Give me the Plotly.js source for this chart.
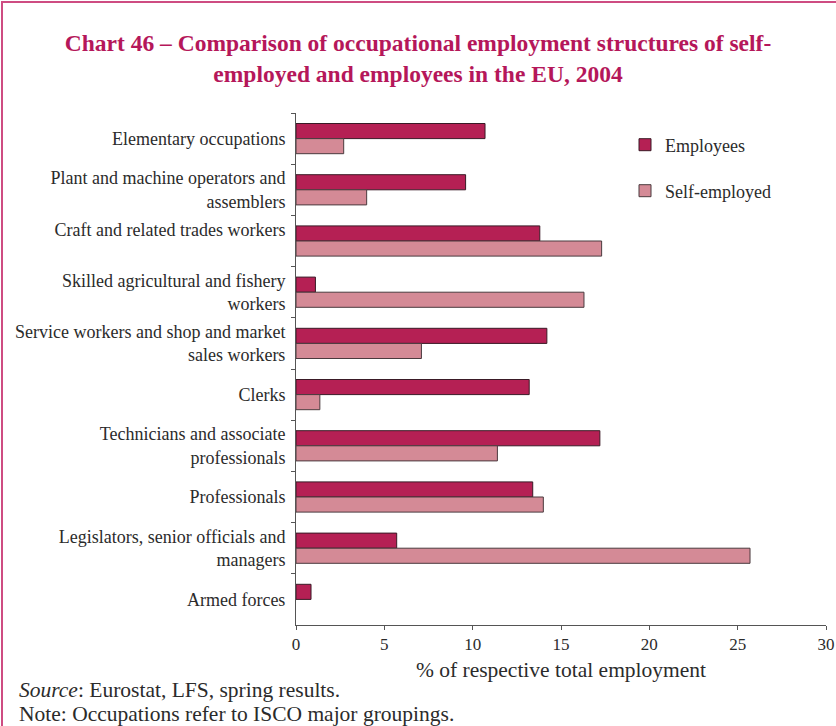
<!DOCTYPE html>
<html>
<head>
<meta charset="utf-8">
<script src="https://cdn.plot.ly/plotly-3.0.1.min.js"></script>
<style>
  html, body { margin: 0; padding: 0; background: #fff; }
  #wrap { position: relative; width: 836px; height: 726px; }
  #chart { position: absolute; left: 0; top: 0; width: 836px; height: 726px; }
  #frame { position: absolute; left: 1px; top: 1px; width: 835px; height: 725px;
           border-top: 2px solid #CE4C82; border-left: 2px solid #CE4C82;
           box-sizing: border-box; pointer-events: none; }
</style>
</head>
<body>
<div id="wrap">
  <div id="chart"></div>
  <div id="frame"></div>
</div>
<script>
const categories = [
  "Elementary occupations",
  "Plant and machine operators and<br>assemblers",
  "Craft and related trades workers<br> ",
  "Skilled agricultural and fishery<br>workers",
  "Service workers and shop and market<br>sales workers",
  "Clerks",
  "Technicians and associate<br>professionals",
  "Professionals",
  "Legislators, senior officials and<br>managers",
  "Armed forces"
];
const employees    = [10.7, 9.6, 13.8, 1.1, 14.2, 13.2, 17.2, 13.4, 5.7, 0.85];
const selfEmployed = [2.7, 4.0, 17.3, 16.3, 7.1, 1.35, 11.4, 14.0, 25.7, null];
const xTicks = [0, 5, 10, 15, 20, 25, 30];

const serif = "Liberation Serif, Times New Roman, serif";

const traces = [
  {
    type: "bar", orientation: "h", name: "Employees",
    x: employees, y: categories,
    marker: { color: "#B52054", line: { color: "#3a1a26", width: 1 } },
    legend: "legend", hoverinfo: "x+name"
  },
  {
    type: "bar", orientation: "h", name: "Self-employed",
    x: selfEmployed, y: categories,
    marker: { color: "#D48A96", line: { color: "#4a3a3e", width: 1 } },
    legend: "legend2", hoverinfo: "x+name"
  }
];

const layout = {
  width: 836, height: 726,
  paper_bgcolor: "#fff", plot_bgcolor: "#fff",
  margin: { l: 296, r: 10, t: 113, b: 101 },
  font: { family: serif, size: 18, color: "#2b2b2b" },
  title: {
    text: "Chart 46 \u2013 Comparison of occupational employment structures of self-<br>employed and employees in the EU, 2004",
    font: { family: serif, size: 23.5, color: "#B5175A", weight: "bold" },
    xref: "container", x: 0.5, xanchor: "center",
    yref: "container", y: 1 - 51 / 726, yanchor: "middle"
  },
  barmode: "group",
  bargap: 0.41,
  bargroupgap: 0,
  xaxis: {
    range: [0, 30], tickvals: xTicks, ticktext: xTicks.map(String),
    showgrid: false, zeroline: false,
    showline: true, linecolor: "#555", linewidth: 1,
    ticks: "outside", ticklen: 4, tickcolor: "#555",
    tickfont: { family: serif, size: 17, color: "#2b2b2b" },
    title: { text: "% of respective total employment", font: { family: serif, size: 21.5, color: "#2b2b2b" }, standoff: 8 },
    fixedrange: true
  },
  yaxis: {
    type: "category", autorange: "reversed",
    showgrid: false, zeroline: false,
    showline: true, linecolor: "#555", linewidth: 1,
    ticks: "outside", ticklen: 4, tickcolor: "#555", tickson: "boundaries",
    ticklabelstandoff: 6,
    tickfont: { family: serif, size: 18, color: "#2b2b2b" },
    fixedrange: true
  },
  showlegend: true,
  legend: {
    x: (625 - 296) / 530, xanchor: "left",
    y: (625 - 145) / 512, yanchor: "middle",
    bgcolor: "rgba(0,0,0,0)", font: { family: serif, size: 18, color: "#2b2b2b" },
    itemwidth: 30
  },
  legend2: {
    x: (625 - 296) / 530, xanchor: "left",
    y: (625 - 191) / 512, yanchor: "middle",
    bgcolor: "rgba(0,0,0,0)", font: { family: serif, size: 18, color: "#2b2b2b" },
    itemwidth: 30
  },
  annotations: [
    {
      xref: "paper", yref: "paper",
      x: (17 - 296) / 530, y: (625 - 690) / 512,
      xanchor: "left", yanchor: "middle", showarrow: false, align: "left",
      text: "<i>Source</i>: Eurostat, LFS, spring results.",
      font: { family: serif, size: 21.5, color: "#2b2b2b" }
    },
    {
      xref: "paper", yref: "paper",
      x: (17 - 296) / 530, y: (625 - 714) / 512,
      xanchor: "left", yanchor: "middle", showarrow: false, align: "left",
      text: "Note: Occupations refer to ISCO major groupings.",
      font: { family: serif, size: 21.5, color: "#2b2b2b" }
    }
  ]
};

Plotly.newPlot("chart", traces, layout, { displayModeBar: false, staticPlot: true });
</script>
</body>
</html>
